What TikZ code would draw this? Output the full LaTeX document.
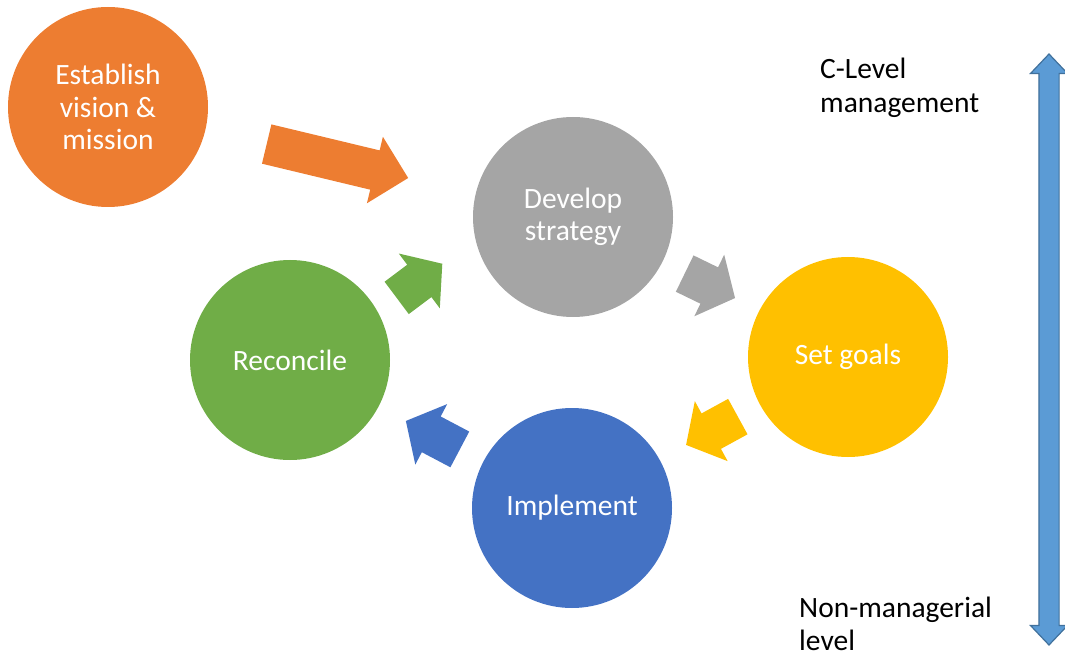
\documentclass[tikz,border=0pt]{standalone}
\usepackage{fontspec}
\setmainfont{Carlito}
\usetikzlibrary{positioning,shapes.arrows}

\definecolor{visionorange}{HTML}{ED7D31}
\definecolor{strategygray}{HTML}{A5A5A5}
\definecolor{goalsyellow}{HTML}{FFC000}
\definecolor{implementblue}{HTML}{4472C4}
\definecolor{reconcilegreen}{HTML}{70AD47}
\definecolor{scalefill}{HTML}{5B9BD5}
\definecolor{scaleline}{HTML}{41719C}

\begin{document}
\begin{tikzpicture}[x=1pt, y=1pt,
    stepnode/.style = {circle, minimum size=200pt, inner sep=0pt, text=white,
                       align=center, font=\fontsize{29.5}{32.5}\selectfont},
    blockarrow/.style = {single arrow, anchor=tail, inner xsep=0pt, inner ysep=20pt, minimum width=68pt,
                         single arrow head extend=14pt, single arrow tip angle=100},
    levellabel/.style = {anchor=west, inner sep=0pt, align=left,
                         font=\fontsize{29.5}{33.5}\selectfont}]
     \useasboundingbox (0,0) rectangle (1065,657);

     % the cycle
     \node[stepnode, fill=visionorange] (vision) at (108,550) {Establish\\vision \&\\mission};
     \node[stepnode, fill=strategygray] (strategy) at (573,440) {Develop\\strategy};
     \node[stepnode, fill=goalsyellow] (goals) at (848,300) {Set goals};
     \node[stepnode, fill=implementblue] (implement) at (572,149) {Implement};
     \node[stepnode, fill=reconcilegreen] (reconcile) at (290,297) {Reconcile};

     % block arrows between the steps (placed at their tails)
     \node[blockarrow, fill=visionorange, minimum height=145.5pt, single arrow tip angle=90,
           rotate=-13.5] (visiontostrategy) at (266.5,513) {};
     \node[blockarrow, fill=strategygray, minimum height=56pt, rotate=-25.9] (strategytogoals) at (684.5,383.5) {};
     \node[blockarrow, fill=goalsyellow, minimum height=59pt, rotate=-151.3] (goalstoimplement) at (738,240.5) {};
     \node[blockarrow, fill=implementblue, minimum height=61pt, rotate=152.2] (implementtoreconcile) at (460,207.5) {};
     \node[blockarrow, fill=reconcilegreen, minimum height=57pt, rotate=36.8] (reconciletostrategy) at (396.5,359) {};

     % management scale
     \node[double arrow, draw=scaleline, line width=1.2pt, fill=scalefill, inner xsep=0pt,
           inner ysep=9.5pt, minimum height=591pt, minimum width=36pt, double arrow head extend=8.5pt,
           double arrow tip angle=87, rotate=90] (scale) at (1049,307.5) {};
     \node[levellabel] (clevel) at (820,569) {C-Level\\management};
     \node[levellabel] (nonmanagerial) at (799,33) {Non-managerial\\level};
\end{tikzpicture}
\end{document}
